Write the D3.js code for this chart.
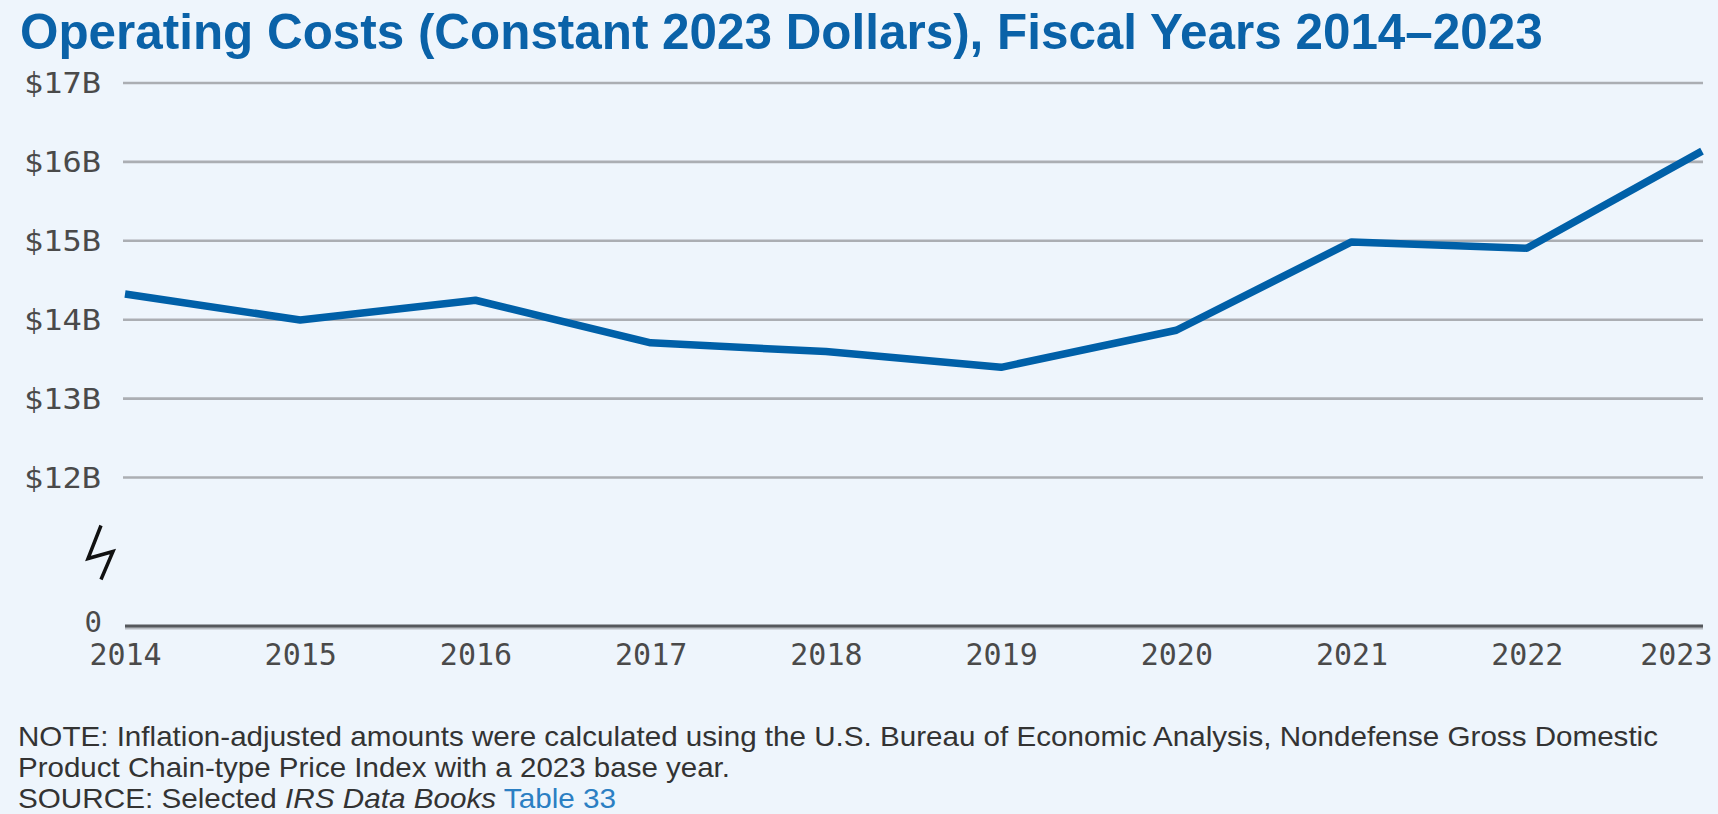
<!DOCTYPE html>
<html>
<head>
<meta charset="utf-8">
<script src="https://cdn.jsdelivr.net/npm/d3@7"></script>
<style>
  html, body { margin: 0; padding: 0; background: #eef5fc; overflow: hidden; }
  svg { display: block; }
  .title { font-family: "Liberation Sans", Arial, sans-serif; font-weight: bold; fill: #0a62a8; }
  .tick text, .zeroLabel { font-family: "DejaVu Sans Mono", monospace; fill: #4a4a4a; }
  .note { font-family: "Liberation Sans Narrow", "Arial Narrow", "Liberation Sans", Arial, sans-serif; fill: #333; }
  .note .link { fill: #2b7fc3; }
</style>
</head>
<body>
<svg id="chart"></svg>
<script>
const years = [2014, 2015, 2016, 2017, 2018, 2019, 2020, 2021, 2022, 2023];
const costs = [14.32, 13.99, 14.24, 13.70, 13.59, 13.39, 13.86, 14.98, 14.90, 16.13];   // billions
const yTicks = [12, 13, 14, 15, 16, 17];
const yTickLabels = ['$12B', '$13B', '$14B', '$15B', '$16B', '$17B'];

const titleText = 'Operating Costs (Constant 2023 Dollars), Fiscal Years 2014\u20132023';
const noteLines = [
	'NOTE: Inflation-adjusted amounts were calculated using the U.S. Bureau of Economic Analysis, Nondefense Gross Domestic',
	'Product Chain-type Price Index with a 2023 base year.'
];

const width = 1718;
const height = 814;
const margin = {top: 82.5, left: 125, right: 16, bottom: 188};
const zeroY = height - margin.bottom;

const svg = d3.select('#chart')
	.attr('width', width)
	.attr('height', height);

// scales
const scaleX = d3.scalePoint()
	.domain(years)
	.range([margin.left, width - margin.right]);

const scaleY = d3.scaleLinear()
	.domain([12, 17])
	.range([477, margin.top]);

// title
svg.append('text')
	.attr('class', 'title')
	.attr('x', 20)
	.attr('y', 49)
	.attr('font-size', 49.4)
	.text(titleText);

// gridlines + y labels
const yAxis = svg.append('g')
	.attr('transform', 'translate(' + (margin.left - 2) + ',0)')
	.call(d3.axisLeft(scaleY)
		.tickValues(yTicks)
		.tickSize(-(width - margin.right - margin.left + 3))
		.tickPadding(22)
		.tickFormat((d, i) => yTickLabels[i]));

yAxis.select('.domain').remove();
yAxis.selectAll('.tick line')
	.attr('stroke', '#abaeb3')
	.attr('stroke-width', 2.6);
yAxis.selectAll('.tick text')
	.attr('font-size', 29)
	.attr('dy', '0.36em')
	.attr('textLength', 77)
	.attr('lengthAdjust', 'spacingAndGlyphs');

// zero baseline
svg.append('line')
	.attr('x1', margin.left)
	.attr('x2', width - margin.right + 1)
	.attr('y1', zeroY + 1.5)
	.attr('y2', zeroY + 1.5)
	.attr('stroke', '#b8bcc2')
	.attr('stroke-width', 4);
svg.append('line')
	.attr('x1', margin.left)
	.attr('x2', width - margin.right + 1)
	.attr('y1', zeroY)
	.attr('y2', zeroY)
	.attr('stroke', '#55585c')
	.attr('stroke-width', 3);

svg.append('text')
	.attr('class', 'zeroLabel')
	.attr('x', margin.left - 23)
	.attr('y', zeroY - 4)
	.attr('text-anchor', 'end')
	.attr('dy', '0.36em')
	.attr('font-size', 29)
	.text('0');

// axis break symbol, sits between $12B and 0
const bx = margin.left - 24;
const by = (scaleY(12) + zeroY) / 2 + 1;
svg.append('path')
	.attr('d', d3.line()([[bx, by - 27], [bx - 13, by + 6], [bx + 12, by - 1], [bx, by + 27]]))
	.attr('fill', 'none')
	.attr('stroke', '#111')
	.attr('stroke-width', 3.5);

// x labels
const xAxis = svg.append('g')
	.attr('transform', 'translate(0,' + zeroY + ')')
	.call(d3.axisBottom(scaleX).tickSize(0).tickPadding(18));

xAxis.select('.domain').remove();
xAxis.selectAll('.tick text')
	.attr('font-size', 30)
	.attr('fill', '#444');
// last label would run off the page, pull it in
xAxis.selectAll('.tick text')
	.filter(d => d === years[years.length - 1])
	.attr('text-anchor', 'end')
	.attr('x', 10);

// the line
const line = d3.line()
	.x((d, i) => scaleX(years[i]))
	.y(d => scaleY(d));

svg.append('path')
	.datum(costs)
	.attr('d', line)
	.attr('fill', 'none')
	.attr('stroke', '#0060a8')
	.attr('stroke-width', 7.5)
	.attr('stroke-linejoin', 'round');

// notes
const notes = svg.append('g').attr('class', 'note');
const noteWidths = [1640, 712];
noteLines.forEach(function(t, i) {
	notes.append('text')
		.attr('x', 18)
		.attr('y', 746 + i * 31)
		.attr('font-size', 28)
		.attr('textLength', noteWidths[i])
		.attr('lengthAdjust', 'spacingAndGlyphs')
		.text(t);
});

const source = notes.append('text')
	.attr('x', 18)
	.attr('y', 808)
	.attr('font-size', 28)
	.attr('textLength', 598)
	.attr('lengthAdjust', 'spacingAndGlyphs');
source.append('tspan').text('SOURCE: Selected ');
source.append('tspan').attr('font-style', 'italic').text('IRS Data Books');
source.append('tspan').attr('class', 'link').text(' Table 33');
</script>
</body>
</html>
